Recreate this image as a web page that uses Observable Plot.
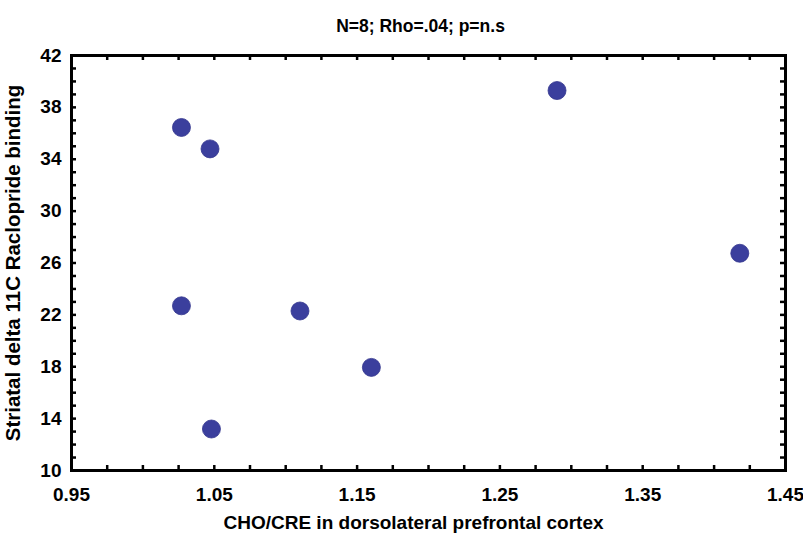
<!DOCTYPE html>
<html><head><meta charset="utf-8">
<script src="https://cdn.jsdelivr.net/npm/d3@7"></script>
<script src="https://cdn.jsdelivr.net/npm/@observablehq/plot@0.6"></script>
<style>
body{margin:0;background:#fff}
#chart svg{font-family:"Liberation Sans",Arial,Helvetica,sans-serif;background:#fff}
</style>
</head><body><div id="chart"></div>
<script>
const choCre = [1.027, 1.047, 1.027, 1.048, 1.110, 1.160, 1.290, 1.418];
const raclopride = [36.45, 34.8, 22.7, 13.2, 22.3, 17.95, 39.3, 26.75];
const xTicks = [0.95, 1.05, 1.15, 1.25, 1.35, 1.45];
const yTicks = [10, 14, 18, 22, 26, 30, 34, 38, 42];
const xMinor = d3.range(0, 21).map(i => +(0.95 + i * 0.025).toFixed(3));
const yMinor = d3.range(10, 43);
const title = "N=8; Rho=.04; p=n.s";
const xLabel = "CHO/CRE in dorsolateral prefrontal cortex";
const yLabel = "Striatal delta 11C Raclopride binding";

const data = choCre.map((x, i) => ({x, y: raclopride[i]}));

const W = 803, H = 540, mL = 71, mR = 18, mT = 55, mB = 70;
const fw = W - mL - mR, fh = H - mT - mB, tl = 5;

const plot = Plot.plot({
  width: W,
  height: H,
  marginLeft: mL,
  marginRight: mR,
  marginTop: mT,
  marginBottom: mB,
  x: {domain: [0.95, 1.45]},
  y: {domain: [10, 42]},
  marks: [
    Plot.axisX(xTicks, {anchor: "bottom", tickSize: 0, tickPadding: 17, tickFormat: d => d.toFixed(2), fontSize: 19, fontWeight: "bold", fill: "black", label: null}),
    Plot.axisY(yTicks, {anchor: "left", tickSize: 0, tickPadding: 10, fontSize: 19, fontWeight: "bold", fill: "black", label: null}),
    Plot.tickX(xMinor, {x: d => d, insetTop: fh - tl, stroke: "black", strokeWidth: 2.5}),
    Plot.tickX(xMinor, {x: d => d, insetBottom: fh - tl, stroke: "black", strokeWidth: 2.5}),
    Plot.tickY(yMinor, {y: d => d, insetRight: fw - tl, stroke: "black", strokeWidth: 2.5}),
    Plot.tickY(yMinor, {y: d => d, insetLeft: fw - tl, stroke: "black", strokeWidth: 2.5}),
    Plot.frame({stroke: "black", strokeWidth: 3}),
    Plot.dot(data, {x: "x", y: "y", r: 9, fill: "#3b3f9d", stroke: "#33368e", strokeWidth: 0.8}),
    Plot.text([title], {frameAnchor: "top", dy: -36, dx: -8, fontSize: 17.5, fontWeight: "bold", fill: "black"}),
    Plot.text([xLabel], {frameAnchor: "bottom", dy: 58, dx: -15, fontSize: 19, fontWeight: "bold", fill: "black"}),
    Plot.text([yLabel], {frameAnchor: "left", textAnchor: "middle", dx: -58, rotate: -90, fontSize: 20.5, fontWeight: "bold", fill: "black"})
  ]
});
document.getElementById("chart").appendChild(plot);
</script>
</body></html>
